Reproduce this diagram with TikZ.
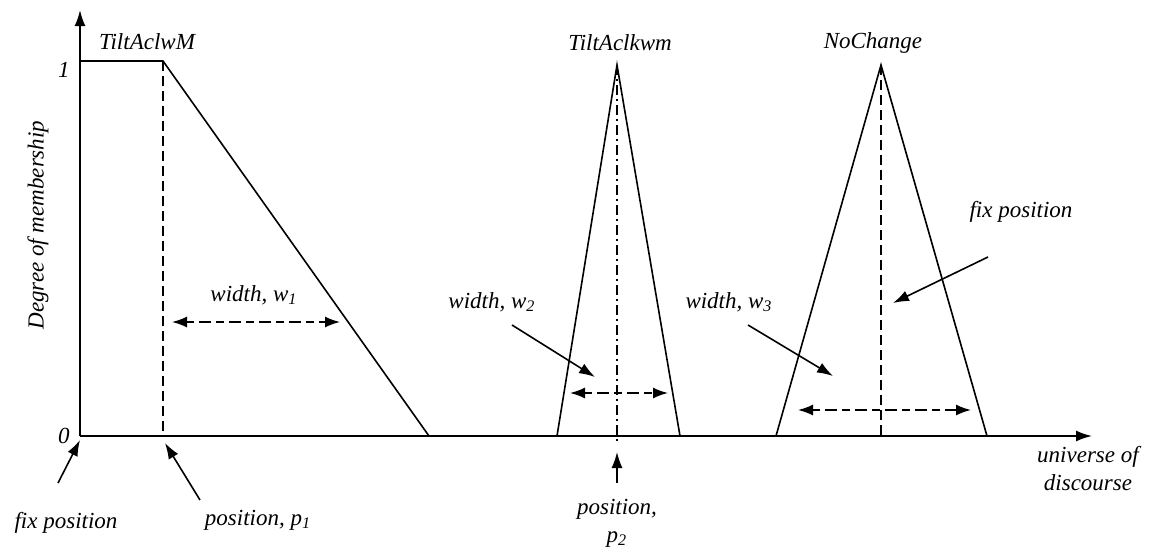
\documentclass[tikz,border=0pt]{standalone}
\usepackage{fontspec}
\setmainfont{Liberation Serif}
\usepackage{tikz}
\usetikzlibrary{arrows.meta,positioning}
\tikzset{
  axisline/.style={line width=0.9pt,-{Latex[length=8pt,width=5.5pt]}},
  mfline/.style={line width=0.8pt},
  guide/.style={line width=0.8pt,dash pattern=on 5pt off 2.5pt},
  guidedot/.style={line width=0.8pt,dash pattern=on 5pt off 2pt on 1pt off 2pt},
  pointer/.style={line width=0.8pt,-{Latex[length=8pt,width=5.5pt]}},
  spanarrow/.style={line width=0.8pt,dash pattern=on 4pt off 2.5pt on 6pt off 2.5pt,
    {Latex[length=7.5pt,width=5.5pt]}-{Latex[length=7.5pt,width=5.5pt]}},
  lbl/.style={font=\fontsize{11.5}{14}\selectfont\itshape,inner sep=1pt}
}

\begin{document}
\begin{tikzpicture}[x=0.5pt,y=-0.5pt]
    \useasboundingbox (0,0) rectangle (1152,552);

    % axes
    \coordinate (origin) at (80,436);
    \coordinate (ytop) at (80,10);
    \coordinate (xend) at (1092,436);
    \draw[axisline] (origin) -- (ytop);
    \draw[axisline] (origin) -- (xend);

    \node[lbl,anchor=east] (one) at (72,70) {1};
    \node[lbl,anchor=east] (zero) at (72,436) {0};
    \node[lbl,rotate=90] (ylab) at (38,225) {Degree of membership};
    \node[lbl,align=center] (xlab) at (1088,469) {universe of\\discourse};

    % membership functions
    \coordinate (m1top) at (163,61);
    \coordinate (m1foot) at (163,436);
    \draw[mfline] (80,61) -- (m1top) -- (429,436);
    \draw[guide] (m1top) -- (m1foot);

    \coordinate (m2top) at (617,65);
    \coordinate (m2foot) at (617,443);
    \draw[mfline] (557,436) -- (m2top) -- (680,436);
    \draw[guidedot] (m2top) -- (m2foot);

    \coordinate (m3top) at (881,65);
    \coordinate (m3foot) at (881,436);
    \draw[mfline] (776,436) -- (m3top) -- (987,436);
    \draw[guide] (m3top) -- (m3foot);

    \node[lbl] (mfA) at (147,42) {TiltAclwM};
    \node[lbl] (mfB) at (620,43) {TiltAclkwm};
    \node[lbl] (mfC) at (873,43) {NoChange};

    % widths
    \node[lbl] (wA) at (254,295) {width, w\textsubscript{1}};
    \coordinate (wAl) at (172,322);
    \coordinate (wAr) at (340,322);
    \draw[spanarrow] (wAl) -- (wAr);

    \node[lbl] (wB) at (492,302) {width, w\textsubscript{2}};
    \coordinate (wBl) at (570,393);
    \coordinate (wBr) at (668,393);
    \coordinate (wBtail) at (512,325);
    \coordinate (wBtip) at (595,377);
    \draw[spanarrow] (wBl) -- (wBr);
    \draw[pointer] (wBtail) -- (wBtip);

    \node[lbl] (wC) at (729,302) {width, w\textsubscript{3}};
    \coordinate (wCl) at (798,410);
    \coordinate (wCr) at (971,410);
    \coordinate (wCtail) at (748,325);
    \coordinate (wCtip) at (833,376);
    \draw[spanarrow] (wCl) -- (wCr);
    \draw[pointer] (wCtail) -- (wCtip);

    % positions
    \node[lbl] (fixC) at (1021,212) {fix position};
    \coordinate (fixCtail) at (988,257);
    \coordinate (fixCtip) at (893,303);
    \draw[pointer] (fixCtail) -- (fixCtip);

    \node[lbl] (fixA) at (66,523) {fix position};
    \coordinate (fixAtail) at (58,483);
    \coordinate (fixAtip) at (80,440);
    \draw[pointer] (fixAtail) -- (fixAtip);

    \node[lbl] (posA) at (258,520) {position, p\textsubscript{1}};
    \coordinate (posAtail) at (200,500);
    \coordinate (posAtip) at (165,443);
    \draw[pointer] (posAtail) -- (posAtip);

    \node[lbl,align=center] (posB) at (617,523) {position,\\p\textsubscript{2}};
    \coordinate (posBtail) at (617,483);
    \coordinate (posBtip) at (617,452);
    \draw[pointer] (posBtail) -- (posBtip);
\end{tikzpicture}
\end{document}
